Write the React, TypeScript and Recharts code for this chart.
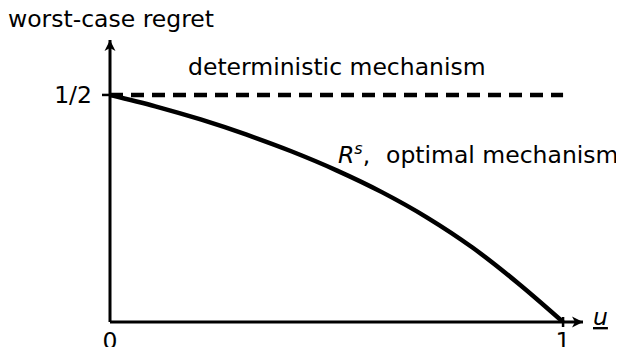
import { LineChart, Line, XAxis, YAxis, ReferenceDot } from 'recharts';

// u on the horizontal axis, worst-case regret on the vertical one
const uValues = [0, 0.1, 0.2, 0.3, 0.4, 0.5, 0.6, 0.7, 0.8, 0.9, 1];
const optimalRegret = [0.5, 0.475, 0.446, 0.413, 0.376, 0.334, 0.286, 0.23, 0.164, 0.086, 0];
const deterministicRegret = [0.5, 0.5, 0.5, 0.5, 0.5, 0.5, 0.5, 0.5, 0.5, 0.5, 0.5];
const xTicks = [0, 1];
const yTicks = [0.5];
const yTickLabels: Record<number, string> = { 0.5: '1/2' };

const FONT = '"DejaVu Sans", sans-serif';
const FS = 23.5;

const data = uValues.map((u, i) => ({
  u,
  optimal: optimalRegret[i],
  deterministic: deterministicRegret[i],
}));

const XTick = ({ x, y, payload }: any) => (
  <g>
    {payload.value === 1 && (
      <line x1={x} x2={x} y1={y - 5} y2={y + 5} stroke="#000" strokeWidth={2.5} />
    )}
    <text x={x} y={y + 27} textAnchor="middle" fontSize={FS} fontFamily={FONT} fill="#000">
      {payload.value}
    </text>
  </g>
);

const RightArrow = ({ cx, cy }: any) => (
  <path d={`M${cx},${cy} L${cx - 11},${cy - 5.5} L${cx - 8},${cy} L${cx - 11},${cy + 5.5} Z`} fill="#000" />
);

const UpArrow = ({ cx, cy }: any) => (
  <path d={`M${cx},${cy} L${cx - 5.5},${cy + 11} L${cx},${cy + 8} L${cx + 5.5},${cy + 11} Z`} fill="#000" />
);

export default function App() {
  return (
    <div style={{ position: 'relative', margin: -8, width: 624, height: 355, background: '#fff' }}>
      <LineChart width={624} height={355} data={data} margin={{ top: 40, right: 41, left: 0, bottom: 0 }}>
        <XAxis
          dataKey="u"
          type="number"
          domain={[0, 1.044]}
          ticks={xTicks}
          allowDataOverflow
          height={33}
          axisLine={{ stroke: '#000', strokeWidth: 3 }}
          tickLine={false}
          tickSize={0}
          tickMargin={0}
          tick={<XTick />}
        />
        <YAxis
          type="number"
          domain={[0, 0.621]}
          ticks={yTicks}
          allowDataOverflow
          width={110}
          axisLine={{ stroke: '#000', strokeWidth: 3 }}
          tickLine={{ stroke: '#000', strokeWidth: 2.5 }}
          tickSize={8}
          tickMargin={10}
          tickFormatter={(v) => yTickLabels[v] ?? String(v)}
          tick={{ fill: '#000', fontSize: FS, fontFamily: FONT }}
        />
        <Line
          dataKey="deterministic"
          stroke="#000"
          strokeWidth={4.5}
          strokeDasharray="13 8"
          dot={false}
          isAnimationActive={false}
        />
        <Line
          dataKey="optimal"
          type="monotone"
          stroke="#000"
          strokeWidth={4.5}
          dot={false}
          isAnimationActive={false}
        />
        <ReferenceDot x={1.044} y={0} ifOverflow="visible" shape={<RightArrow />} />
        <ReferenceDot x={0} y={0.621} ifOverflow="visible" shape={<UpArrow />} />
      </LineChart>
      <svg
        width={624}
        height={355}
        style={{ position: 'absolute', left: 0, top: 0, pointerEvents: 'none' }}
        fontFamily={FONT}
        fontSize={FS}
        fill="#000"
      >
        <text x={8} y={27}>worst-case regret</text>
        <text x={188} y={75}>deterministic mechanism</text>
        <text x={338} y={163}>
          <tspan fontStyle="italic">R</tspan>
          <tspan fontStyle="italic" fontSize={16} dy={-9}>s</tspan>
          <tspan dy={9}>,</tspan>
          <tspan x={386}>optimal mechanism</tspan>
        </text>
        <text x={593} y={325} fontStyle="italic" textDecoration="underline">u</text>
      </svg>
    </div>
  );
}
